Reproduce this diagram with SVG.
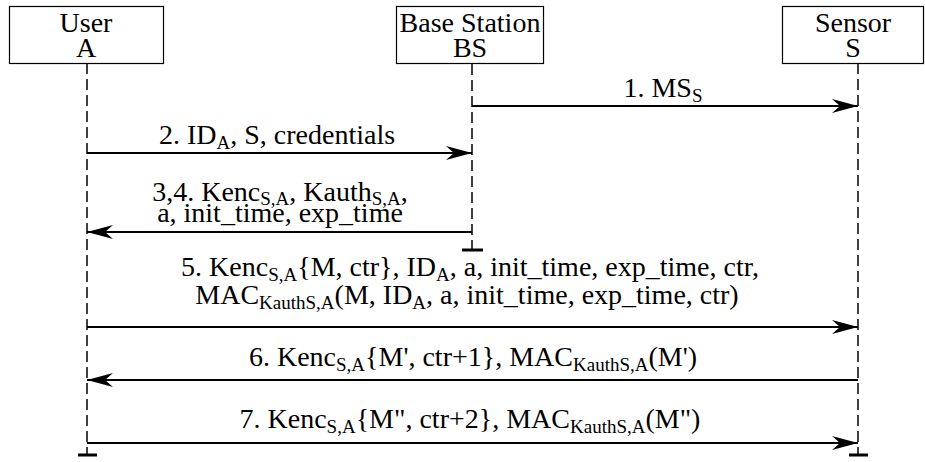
<svg xmlns="http://www.w3.org/2000/svg" width="925" height="462" viewBox="0 0 925 462">
<defs>
<marker id="ah" viewBox="-27 -8 28 16" refX="0" refY="0" markerWidth="28" markerHeight="16" markerUnits="userSpaceOnUse" orient="auto">
<path d="M0,0 L-26,-7 L-18,0 L-26,7 Z" fill="#000"/>
</marker>
</defs>
<g id="lifelines" stroke="#000" fill="none">
<g stroke-width="1.5" stroke-dasharray="11 5">
<path d="M87,63 V455"/>
<path d="M472,64 V250"/>
<path d="M858,63 V455"/>
</g>
<g stroke-width="3">
<path d="M78,455 H97"/>
<path d="M462,250 H483"/>
<path d="M849,455 H868"/>
</g>
</g>
<g id="node-user" font-family="Times New Roman, Liberation Serif, serif" font-size="28" text-anchor="middle">
<rect x="9.5" y="6.5" width="154" height="57" fill="#fff" stroke="#000" stroke-width="1.2"/>
<text font-family="Times New Roman" x="86" y="32">User</text>
<text font-family="Times New Roman" x="86" y="57">A</text>
</g>
<g id="node-bs" font-family="Times New Roman, Liberation Serif, serif" font-size="28" text-anchor="middle">
<rect x="396.5" y="6.5" width="147" height="57" fill="#fff" stroke="#000" stroke-width="1.2"/>
<text font-family="Times New Roman" x="470" y="32">Base Station</text>
<text font-family="Times New Roman" x="470" y="57">BS</text>
</g>
<g id="node-sensor" font-family="Times New Roman, Liberation Serif, serif" font-size="28" text-anchor="middle">
<rect x="782.5" y="6.5" width="141" height="57" fill="#fff" stroke="#000" stroke-width="1.2"/>
<text font-family="Times New Roman" x="853" y="32">Sensor</text>
<text font-family="Times New Roman" x="853" y="57">S</text>
</g>
<g id="connectors" stroke="#000" stroke-width="1.8" fill="none" marker-end="url(#ah)">
<path d="M472,106 H858"/>
<path d="M87,153 H472"/>
<path d="M472,232 H87"/>
<path d="M87,327 H858"/>
<path d="M858,380 H87"/>
<path d="M87,443 H858"/>
</g>
<g id="labels" font-family="Times New Roman, Liberation Serif, serif" text-anchor="middle" font-size="28">
<text font-family="Times New Roman" x="663" y="97">1. MS<tspan font-size="19" dy="5">S</tspan></text>
<text font-family="Times New Roman" x="277" y="144">2. ID<tspan font-size="19" dy="5">A</tspan><tspan dy="-5">, S, credentials</tspan></text>
<text font-family="Times New Roman" x="280" y="201">3,4. Kenc<tspan font-size="19" dy="4">S,A</tspan><tspan dy="-4">, Kauth</tspan><tspan font-size="19" dy="4">S,A</tspan><tspan dy="-4">,</tspan></text>
<text font-family="Times New Roman" x="280" y="222">a, init_time, exp_time</text>
<text font-family="Times New Roman" x="470" y="276">5. Kenc<tspan font-size="19" dy="5">S,A</tspan><tspan dy="-5">{M, ctr}, ID</tspan><tspan font-size="19" dy="5">A</tspan><tspan dy="-5">, a, init_time, exp_time, ctr,</tspan></text>
<text font-family="Times New Roman" x="467" y="304">MAC<tspan font-size="19" dy="5">KauthS,A</tspan><tspan dy="-5">(M, ID</tspan><tspan font-size="19" dy="5">A</tspan><tspan dy="-5">, a, init_time, exp_time, ctr)</tspan></text>
<text font-family="Times New Roman" x="473" y="366">6. Kenc<tspan font-size="19" dy="5">S,A</tspan><tspan dy="-5">{M', ctr+1}, MAC</tspan><tspan font-size="19" dy="5">KauthS,A</tspan><tspan dy="-5">(M')</tspan></text>
<text font-family="Times New Roman" x="470" y="428">7. Kenc<tspan font-size="19" dy="5">S,A</tspan><tspan dy="-5">{M", ctr+2}, MAC</tspan><tspan font-size="19" dy="5">KauthS,A</tspan><tspan dy="-5">(M")</tspan></text>
</g>
</svg>
